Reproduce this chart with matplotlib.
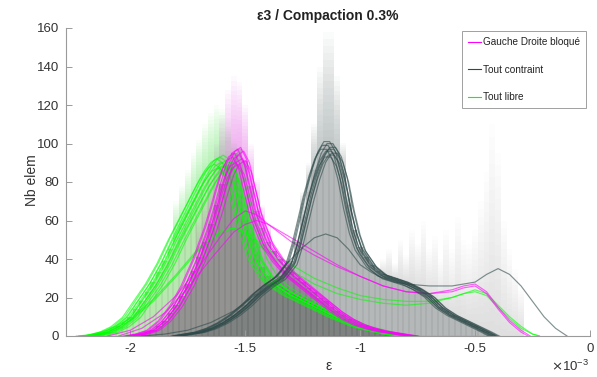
import numpy as np
import matplotlib
matplotlib.use("Agg")
import matplotlib.pyplot as plt
from matplotlib.lines import Line2D

plt.rcParams['font.family'] = ['Liberation Sans', 'DejaVu Sans']

# ---------------------------------------------------------------- data
# strain values are in units of 1e-3
LABELS = ["Gauche Droite bloqué", "Tout contraint", "Tout libre"]
COL_MAG = "#ff00ff"
COL_GRAY = "#2e4a4a"
COL_GREEN = "#00ff00"

# typical density curve of each configuration
green_x = [-2.20, -2.15, -2.10, -2.05, -2.00, -1.95, -1.90, -1.85, -1.80, -1.75, -1.70, -1.675,
           -1.65, -1.625, -1.60, -1.575, -1.55, -1.525, -1.50, -1.475, -1.45, -1.40, -1.35, -1.30,
           -1.25, -1.20, -1.15, -1.10, -1.05, -1.00, -0.95, -0.90, -0.85, -0.80]
green_y = [0, 0.5, 2, 5, 10, 19, 28, 39, 52, 64, 76, 82,
           87, 91, 93, 91, 84, 72, 60, 50, 41, 31, 26, 22,
           19, 16, 13, 10, 7.5, 5, 3.5, 2, 0.7, 0]

mag_x = [-2.00, -1.95, -1.90, -1.85, -1.80, -1.75, -1.70, -1.65, -1.625, -1.60, -1.575, -1.55,
         -1.525, -1.50, -1.475, -1.45, -1.40, -1.35, -1.30, -1.25, -1.20, -1.15, -1.10, -1.05,
         -1.00, -0.95, -0.90, -0.85, -0.80, -0.77]
mag_y = [0, 1, 3, 8, 16, 27, 41, 58, 68, 79, 89, 95,
         97, 91, 78, 65, 49, 40, 33, 28, 23, 18, 13, 9,
         6, 4, 2.5, 1.5, 0.5, 0]

gray_x = [-1.80, -1.75, -1.70, -1.65, -1.60, -1.55, -1.50, -1.45, -1.40, -1.35, -1.30, -1.275,
          -1.25, -1.225, -1.20, -1.175, -1.15, -1.125, -1.10, -1.075, -1.05, -1.025, -1.00, -0.95,
          -0.90, -0.85, -0.80, -0.75, -0.70, -0.65, -0.60, -0.55, -0.50, -0.45, -0.42]
gray_y = [0, 1, 2, 4, 7, 11, 16, 22, 27, 31, 39, 49,
          62, 75, 86, 95, 100, 100, 95, 84, 68, 55, 46, 37,
          32, 30, 28, 25, 21, 15, 11, 8, 5, 2, 0]

# run-to-run variation of the typical curve (offset in strain, height factor)
green_shift = [-0.035, -0.025, -0.02, -0.012, -0.006, 0.0, 0.004, 0.01, 0.016, 0.022, 0.03, 0.045]
green_scale = [0.96, 0.99, 0.94, 1.0, 0.97, 0.95, 1.01, 0.93, 0.98, 0.96, 0.94, 0.97]
mag_shift = [-0.03, -0.022, -0.015, -0.008, 0.0, 0.005, 0.012, 0.018, 0.025, -0.004]
mag_scale = [0.96, 0.98, 0.93, 1.0, 0.97, 1.01, 0.95, 0.99, 0.94, 0.92]
gray_shift = [-0.022, -0.015, -0.008, 0.0, 0.006, 0.012, 0.018, 0.025, -0.004, 0.01]
gray_scale = [0.97, 0.99, 1.01, 0.96, 1.0, 0.94, 0.98, 0.95, 0.93, 0.97]

# broad runs that stand apart from the bundles
mag_out1_x = [-2.10, -2.00, -1.90, -1.80, -1.70, -1.60, -1.55, -1.50, -1.45, -1.40, -1.30, -1.20,
              -1.10, -1.00, -0.90, -0.80, -0.70, -0.60, -0.55, -0.50, -0.45, -0.40, -0.35, -0.30, -0.27]
mag_out1_y = [0, 3, 10, 21, 36, 53, 61, 65, 63, 58, 49, 42,
              36, 31, 26, 23, 22, 23, 25, 26, 22, 14, 7, 2, 0]
mag_out2_x = [-2.05, -1.95, -1.85, -1.75, -1.65, -1.55, -1.50, -1.45, -1.40, -1.30, -1.20, -1.10,
              -1.00, -0.90, -0.80, -0.70, -0.60, -0.55, -0.50, -0.45, -0.40, -0.35, -0.30, -0.26]
mag_out2_y = [0, 4, 12, 25, 40, 54, 58, 60, 58, 51, 44, 37,
              31, 26, 23, 22, 24, 26, 27, 23, 15, 8, 3, 0]

green_out1_x = [-2.20, -2.10, -2.00, -1.90, -1.80, -1.70, -1.60, -1.55, -1.50, -1.40, -1.30, -1.20, -1.10,
                -1.00, -0.90, -0.80, -0.70, -0.60, -0.55, -0.50, -0.45, -0.40, -0.35, -0.30, -0.25, -0.22]
green_out1_y = [0, 3, 9, 19, 32, 46, 55, 56, 53, 43, 34, 27, 22,
                19, 17, 16, 17, 20, 22, 24, 22, 16, 10, 5, 1, 0]
green_out2_y = [0, 2, 8, 18, 31, 45, 54, 56, 54, 45, 37, 30, 25,
                21, 19, 18, 18, 20, 22, 23, 21, 15, 9, 4, 1, 0]

gray_out_x = [-1.95, -1.85, -1.75, -1.65, -1.55, -1.45, -1.35, -1.30, -1.25, -1.20, -1.15, -1.10,
              -1.05, -1.00, -0.95, -0.90, -0.85, -0.80, -0.70, -0.60, -0.50, -0.45, -0.40, -0.35,
              -0.30, -0.25, -0.20, -0.15, -0.10]
gray_out_y = [0, 1, 3, 7, 13, 22, 33, 40, 46, 51, 53, 51,
              45, 37, 33, 30, 28, 27, 26, 26, 28, 32, 35, 32,
              26, 18, 10, 4, 0]

# histogram counts, bins of width 0.025 starting at the given left centre
BIN_W = 0.025
green_hist_start = -2.200
green_hist = [0, 0, 1, 1, 2, 3, 5, 7, 10, 14, 18, 23, 28, 33, 39, 45, 51, 58, 64, 70, 76, 81, 86, 90,
              92, 89, 83, 72, 60, 50, 42, 36, 31, 28, 26, 24, 22, 21, 19, 17, 16, 14, 13, 11, 10, 9,
              7, 6, 5, 4, 3, 3, 2, 1, 1, 0]
mag_hist_start = -2.000
mag_hist = [0, 0, 1, 2, 3, 5, 8, 12, 16, 21, 27, 34, 41, 49, 58, 68, 79, 89, 95, 97, 91, 78, 65, 56,
            49, 44, 40, 36, 33, 30, 28, 25, 23, 20, 18, 15, 13, 11, 9, 7, 6, 5, 4, 3, 2.5, 2, 1.5,
            1, 0.5, 0]
gray_hist_start = -1.800
gray_hist = [0, 0.5, 1, 1.5, 2, 3, 4, 5, 7, 9, 11, 13, 16, 19, 22, 25, 27, 29, 31, 34, 39, 49, 62, 75,
             86, 95, 100, 100, 95, 84, 68, 55, 46, 41, 37, 34, 32, 31, 30, 29, 28, 27, 25, 23, 21,
             18, 15, 13, 11, 9, 8, 6, 5, 3, 2, 1, 0]

# highest count reached by any run in a bin (spikes above the typical level)
green_peak_start = -1.800
green_peak = [70, 78, 86, 95, 102, 110, 116, 120, 118, 112, 104, 92, 78, 64, 52]
mag_peak_start = -1.700
mag_peak = [60, 72, 85, 100, 115, 128, 135, 132, 120, 100, 82, 68, 58]
gray_peak_start = -1.250
gray_peak = [75, 90, 110, 140, 158, 158, 135, 100, 75]
gray_peak2_start = -0.900
gray_peak2 = [40, 45, 38, 50, 42, 55, 48, 60, 45, 52, 40, 55, 45, 62, 50, 48, 55, 70, 85, 110,
              95, 60, 45, 35, 25]

# ---------------------------------------------------------------- figure
fig = plt.figure(figsize=(5.97, 3.77), dpi=100)
ax = fig.add_axes([66 / 597, 41 / 377, 524 / 597, 308 / 377])

# bar face tints (translucent, they darken where configurations overlap)
FACE_GREEN = (0.45, 0.82, 0.38)
FACE_MAG = (0.44, 0.26, 0.46)
FACE_GRAY = (0.42, 0.45, 0.45)


def bin_centres(start, n):
    return start + BIN_W * np.arange(n)


def draw_hist(start, counts, face):
    x = bin_centres(start, len(counts))
    ax.bar(x, counts, width=BIN_W, color=face, alpha=0.5, linewidth=0, zorder=1)
    ax.bar(x, counts, width=BIN_W, fill=False, edgecolor=(0.2, 0.2, 0.2, 0.12),
           linewidth=0.35, zorder=1)


def draw_spikes(start, peaks, h_start, hist, color, layers=16, alpha=0.03):
    # fading column between the typical level and the highest count
    x = bin_centres(start, len(peaks))
    base = []
    for xi in x:
        j = int(round((xi - h_start) / BIN_W))
        base.append(hist[j] if 0 <= j < len(hist) else 0)
    base = np.array(base, dtype=float)
    peaks = np.array(peaks, dtype=float)
    for k in range(1, layers + 1):
        top = base + (peaks - base) * k / layers
        ax.bar(x, top - base, bottom=base, width=BIN_W, color=color,
               alpha=alpha, linewidth=0, zorder=0.5)


draw_hist(green_hist_start, green_hist, FACE_GREEN)
draw_hist(mag_hist_start, mag_hist, FACE_MAG)
draw_hist(gray_hist_start, gray_hist, FACE_GRAY)

draw_spikes(green_peak_start, green_peak, green_hist_start, green_hist, (0.3, 0.95, 0.3))
draw_spikes(mag_peak_start, mag_peak, mag_hist_start, mag_hist, (0.95, 0.3, 0.95))
draw_spikes(gray_peak_start, gray_peak, gray_hist_start, gray_hist, (0.4, 0.45, 0.45), alpha=0.028)
draw_spikes(gray_peak2_start, gray_peak2, gray_hist_start, gray_hist, (0.45, 0.5, 0.5), alpha=0.012)

LW = 0.85
LA = 0.6


def draw_bundle(bx, by, shifts, scales, color):
    bx = np.asarray(bx, dtype=float)
    by = np.asarray(by, dtype=float)
    for s, k in zip(shifts, scales):
        ax.plot(bx + s, by * k, color=color, lw=LW, alpha=LA, zorder=3)


draw_bundle(green_x, green_y, green_shift, green_scale, COL_GREEN)
ax.plot(green_out1_x, green_out1_y, color=COL_GREEN, lw=LW, alpha=LA, zorder=3)
ax.plot(green_out1_x, green_out2_y, color=COL_GREEN, lw=LW, alpha=LA, zorder=3)

draw_bundle(mag_x, mag_y, mag_shift, mag_scale, COL_MAG)
ax.plot(mag_out1_x, mag_out1_y, color=COL_MAG, lw=LW, alpha=LA, zorder=3)
ax.plot(mag_out2_x, mag_out2_y, color=COL_MAG, lw=LW, alpha=LA, zorder=3)

draw_bundle(gray_x, gray_y, gray_shift, gray_scale, COL_GRAY)
ax.plot(gray_out_x, gray_out_y, color=COL_GRAY, lw=LW, alpha=LA, zorder=3)

# ---------------------------------------------------------------- axes styling
AX_COL = "#9a9a9a"
TXT_COL = "#333333"
ax.set_xlim(-2.28, 0)
ax.set_ylim(0, 160)
ax.set_xticks([-2, -1.5, -1, -0.5, 0])
ax.set_xticklabels(["-2", "-1.5", "-1", "-0.5", "0"])
ax.set_yticks(np.arange(0, 161, 20))
for side in ("top", "right"):
    ax.spines[side].set_visible(False)
for side in ("left", "bottom"):
    ax.spines[side].set_color(AX_COL)
    ax.spines[side].set_linewidth(0.8)
ax.tick_params(direction="in", length=4, width=0.7, color=AX_COL,
               labelcolor=TXT_COL, labelsize=9.5, pad=5)

fig.text(328 / 597, 1 - 16 / 377, "ε3 / Compaction 0.3%", ha="center", va="center",
         fontsize=10, fontweight="bold", color="#222222")
fig.text(32 / 597, 1 - 180 / 377, "Nb elem", rotation=90, ha="center", va="center",
         fontsize=10, color=TXT_COL)
fig.text(329 / 597, 1 - 366 / 377, "ε", ha="center", va="center", fontsize=10, color=TXT_COL)
fig.text(589 / 597, 1 - 366 / 377, r"$\times\mathregular{10^{-3}}$", ha="right", va="center",
         fontsize=9.5, color=TXT_COL)

handles = [Line2D([], [], color=COL_MAG, lw=0.8),
           Line2D([], [], color=COL_GRAY, lw=0.8),
           Line2D([], [], color=COL_GREEN, lw=0.8)]
leg = ax.legend(handles, LABELS, loc="upper right", bbox_to_anchor=(0.992, 0.99),
                fontsize=7.2, frameon=True, fancybox=False, framealpha=1,
                edgecolor="#a0a0a0", handlelength=1.3, handletextpad=0.15,
                labelspacing=1.75, borderpad=0.6, borderaxespad=0)
leg.get_frame().set_linewidth(0.7)
for t in leg.get_texts():
    t.set_color("#222222")

fig.savefig("out.png", dpi=100)
